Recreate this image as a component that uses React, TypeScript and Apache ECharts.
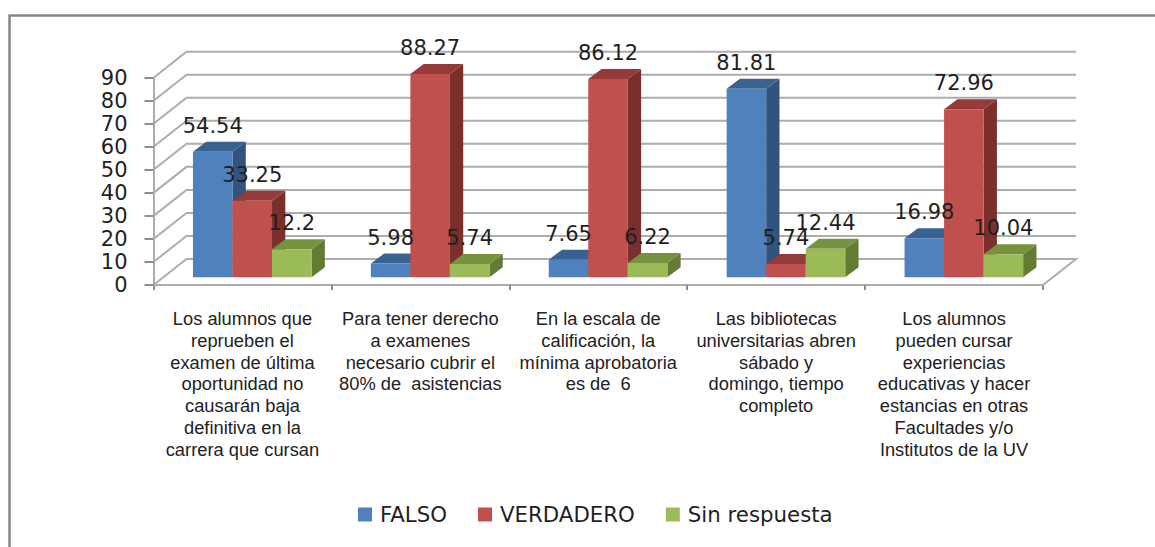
import React, { useEffect, useRef } from "react";
import * as echarts from "echarts";

const categories = [
  "Los alumnos que\nreprueben el\nexamen de última\noportunidad no\ncausarán baja\ndefinitiva en la\ncarrera que cursan",
  "Para tener derecho\na examenes\nnecesario cubrir el\n80% de  asistencias",
  "En la escala de\ncalificación, la\nmínima aprobatoria\nes de  6",
  "Las bibliotecas\nuniversitarias abren\nsábado y\ndomingo, tiempo\ncompleto",
  "Los alumnos\npueden cursar\nexperiencias\neducativas y hacer\nestancias en otras\nFacultades y/o\nInstitutos de la UV",
];
const falso = [54.54, 5.98, 7.65, 81.81, 16.98];
const verdadero = [33.25, 88.27, 86.12, 5.74, 72.96];
const sinRespuesta = [12.2, 5.74, 6.22, 12.44, 10.04];
const wallTicks = [0, 10, 20, 30, 40, 50, 60, 70, 80, 90];

const FONT = "'DejaVu Sans'";
const GRID = { left: 153.5, top: 77.7, width: 889.5, height: 207.3 };
const WALL_DX = 33;
const WALL_DY = 26;
const BAR_SHIFT_X = 9.8;
const BAR_SHIFT_Y = 7.7;
const BAR_DX = 13.3;
const BAR_DY = 10;
const WALL_COLOR = "#adadad";
const AXIS_COLOR = "#8e8e8e";

function barSeries(name: string, values: number[], slot: number, front: string, top: string, side: string) {
  return {
    type: "custom",
    name,
    coordinateSystem: "cartesian2d",
    itemStyle: { color: front },
    encode: { x: 0, y: 1 },
    data: values.map((v, i) => [i, v]),
    z: 3,
    renderItem: (_p: any, api: any) => {
      const i = api.value(0);
      const v = api.value(1);
      const band = api.size([1, 0])[0];
      const w = band / 4.5;
      const cx = api.coord([i, 0])[0] + BAR_SHIFT_X;
      const x0 = cx + (slot - 1.5) * w;
      const x1 = x0 + w;
      const yb = api.coord([i, 0])[1] - BAR_SHIFT_Y;
      const yt = api.coord([i, v])[1] - BAR_SHIFT_Y;
      return {
        type: "group",
        children: [
          {
            type: "polygon",
            shape: { points: [[x1, yb], [x1 + BAR_DX, yb - BAR_DY], [x1 + BAR_DX, yt - BAR_DY], [x1, yt]] },
            style: { fill: side },
          },
          {
            type: "polygon",
            shape: { points: [[x0, yt], [x0 + BAR_DX, yt - BAR_DY], [x1 + BAR_DX, yt - BAR_DY], [x1, yt]] },
            style: { fill: top },
          },
          { type: "rect", shape: { x: x0, y: yt, width: w, height: yb - yt }, style: { fill: front } },
          {
            type: "text",
            z2: 100,
            x: x0 + w / 2,
            y: yt - 26,
            style: {
              text: String(v),
              font: `21px ${FONT}`,
              fill: "#1f1f1f",
              align: "center",
              verticalAlign: "middle",
            },
          },
        ],
      };
    },
  };
}

export default function App() {
  const ref = useRef<HTMLDivElement>(null);
  useEffect(() => {
    const chart = echarts.init(ref.current!, null, { renderer: "svg" });
    chart.setOption({
      animation: false,
      backgroundColor: "#ffffff",
      graphic: [
        {
          type: "polyline",
          shape: { points: [[9.5, 547], [9.5, 15.5], [1155, 15.5]] },
          style: { stroke: "#868686", lineWidth: 2.5, fill: "none" },
        },
      ],
      legend: {
        left: 358,
        top: 504,
        icon: "rect",
        itemWidth: 14,
        itemHeight: 14,
        itemGap: 31,
        padding: 0,
        data: ["FALSO", "VERDADERO", "Sin respuesta"],
        textStyle: { fontFamily: FONT, fontSize: 21.3, color: "#1f1f1f", padding: [0, 0, 0, 3] },
      },
      grid: { ...GRID },
      xAxis: {
        type: "category",
        data: categories,
        axisLine: { lineStyle: { color: WALL_COLOR, width: 2 } },
        axisTick: { show: true, alignWithLabel: false, length: 5, lineStyle: { color: AXIS_COLOR, width: 2 } },
        axisLabel: {
          interval: 0,
          margin: 23,
          fontFamily: "'Liberation Sans'",
          fontSize: 18.3,
          lineHeight: 21.7,
          color: "#222222",
          align: "center",
          verticalAlign: "top",
        },
        splitLine: { show: false },
      },
      yAxis: {
        type: "value",
        min: 0,
        max: 90,
        interval: 10,
        axisLine: { show: true, lineStyle: { color: WALL_COLOR, width: 2 } },
        axisTick: { show: true, length: 9, lineStyle: { color: AXIS_COLOR, width: 2 } },
        axisLabel: { margin: 26, fontFamily: FONT, fontSize: 21, color: "#1f1f1f", padding: [3, 0, 0, 0] },
        splitLine: { show: false },
      },
      series: [
        {
          type: "custom",
          name: "walls",
          coordinateSystem: "cartesian2d",
          encode: { x: 0, y: 1 },
          silent: true,
          z: 1,
          data: wallTicks.map((v) => [0, v]),
          renderItem: (p: any, api: any) => {
            const v = api.value(1);
            const y = api.coord([0, v])[1];
            const x0 = p.coordSys.x;
            const x1 = x0 + p.coordSys.width;
            const pts: number[][] = [[x0, y], [x0 + WALL_DX, y - WALL_DY], [x1 + WALL_DX, y - WALL_DY]];
            if (v === 0) pts.push([x1, y]);
            return {
              type: "polyline",
              shape: { points: pts },
              style: { stroke: WALL_COLOR, lineWidth: 2, fill: "none" },
            };
          },
        },
        barSeries("FALSO", falso, 0, "#4F81BD", "#3A6290", "#31537E"),
        barSeries("VERDADERO", verdadero, 1, "#C0504D", "#943B39", "#7B2F2D"),
        barSeries("Sin respuesta", sinRespuesta, 2, "#9BBB59", "#76923F", "#647B36"),
      ],
    });
    return () => chart.dispose();
  }, []);
  return <div ref={ref} style={{ position: "absolute", left: 0, top: 0, width: 1155, height: 547 }} />;
}
